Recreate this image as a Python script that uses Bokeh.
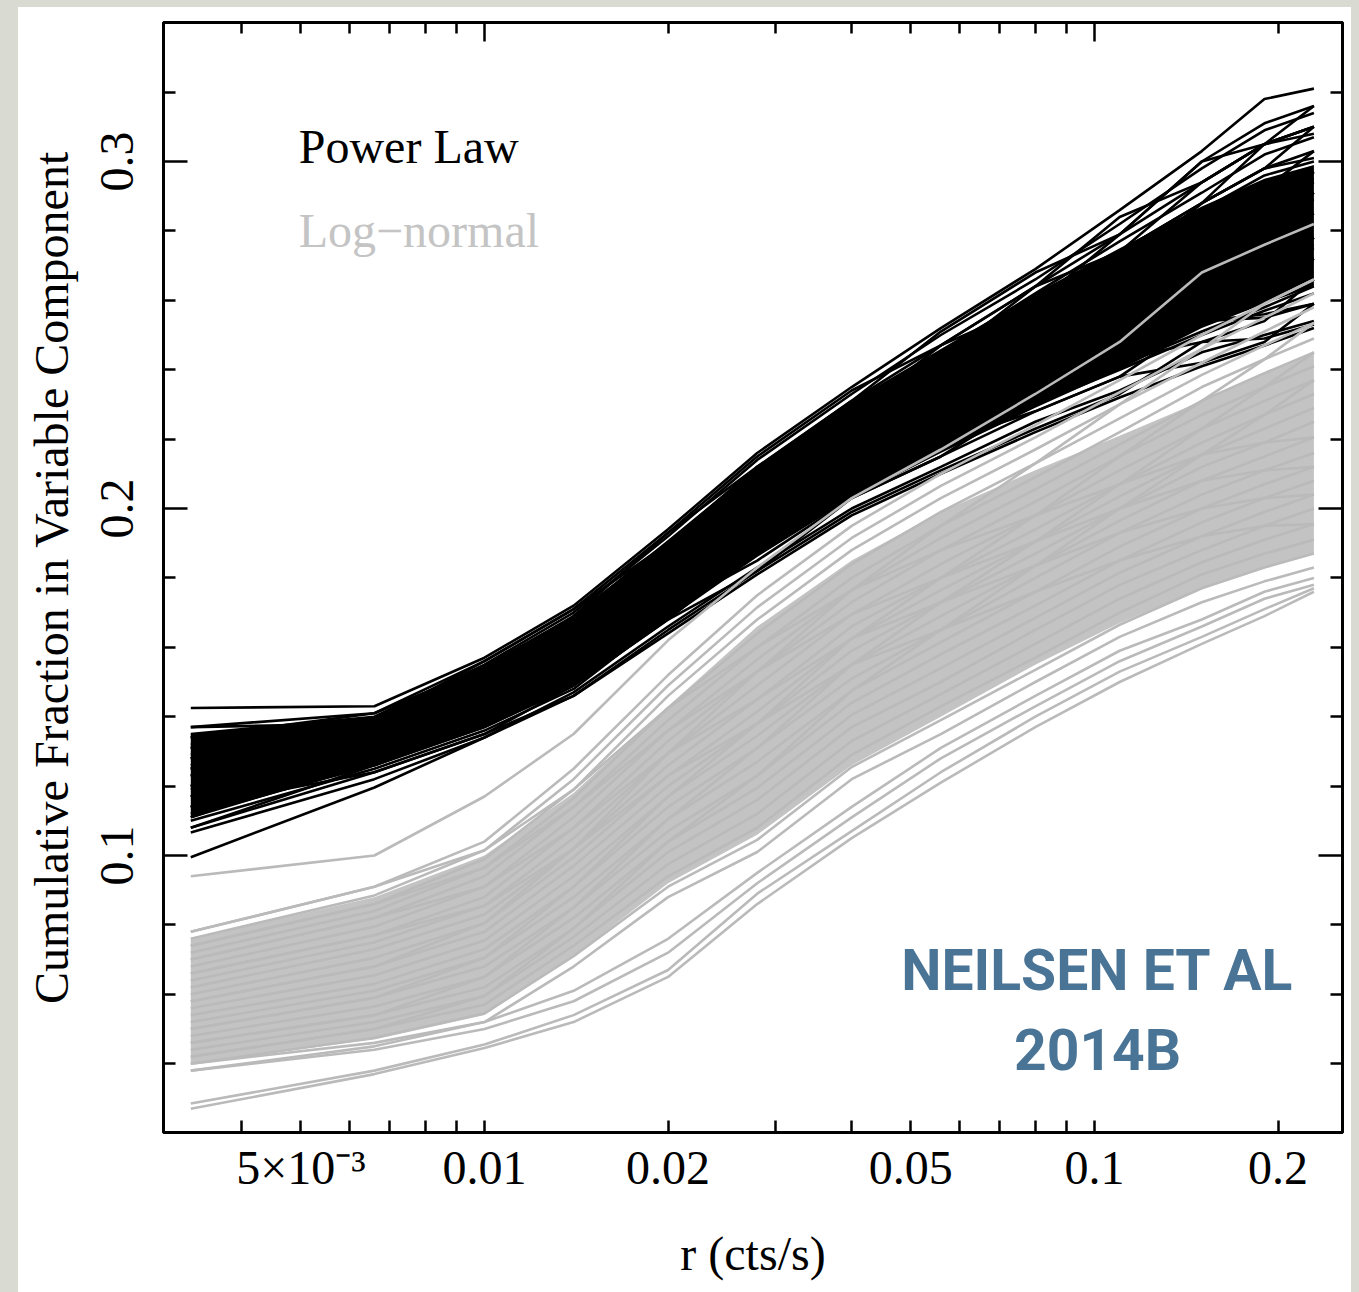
import math
from bokeh.plotting import figure
from bokeh.models import Range1d, FixedTicker, LogAxis, LinearAxis, Label
from bokeh.embed import file_html
from bokeh.resources import INLINE

# ---------------- data ----------------
R_GRID = [0.0033, 0.0066, 0.01, 0.014, 0.02, 0.028, 0.04, 0.056, 0.08, 0.11, 0.15, 0.19, 0.229]

# dense core of each bundle of realisations (where the curves overlap solidly)
PL_CORE_LO = [0.111, 0.126, 0.137, 0.149, 0.168, 0.186, 0.203, 0.216, 0.229, 0.240, 0.252, 0.259, 0.264]
PL_CORE_HI = [0.135, 0.140, 0.155, 0.169, 0.191, 0.212, 0.231, 0.246, 0.262, 0.275, 0.287, 0.295, 0.299]
LN_CORE_LO = [0.040, 0.047, 0.054, 0.071, 0.092, 0.106, 0.126, 0.140, 0.155, 0.167, 0.177, 0.183, 0.187]
LN_CORE_HI = [0.076, 0.088, 0.100, 0.118, 0.143, 0.166, 0.185, 0.199, 0.211, 0.221, 0.231, 0.239, 0.245]

POWER_LAW = [
    [0.1425, 0.143, 0.157, 0.172, 0.194, 0.216, 0.235, 0.252, 0.269, 0.286, 0.303, 0.318, 0.321],
    [0.0995, 0.1196, 0.134, 0.146, 0.164, 0.181, 0.198, 0.210, 0.222, 0.232, 0.241, 0.247, 0.252],
    [0.137, 0.141, 0.156, 0.171, 0.193, 0.215, 0.234, 0.247, 0.264, 0.284, 0.294, 0.305, 0.310],
    [0.134, 0.139, 0.154, 0.169, 0.193, 0.212, 0.231, 0.251, 0.268, 0.279, 0.300, 0.311, 0.316],
    [0.131, 0.139, 0.156, 0.171, 0.190, 0.212, 0.227, 0.243, 0.264, 0.274, 0.294, 0.305, 0.316],
    [0.137, 0.138, 0.152, 0.166, 0.188, 0.212, 0.231, 0.247, 0.259, 0.274, 0.288, 0.298, 0.303],
    [0.128, 0.138, 0.152, 0.169, 0.190, 0.208, 0.227, 0.239, 0.255, 0.274, 0.288, 0.305, 0.310],
    [0.134, 0.136, 0.150, 0.164, 0.188, 0.208, 0.224, 0.243, 0.259, 0.269, 0.283, 0.292, 0.303],
    [0.125, 0.136, 0.150, 0.164, 0.185, 0.205, 0.224, 0.235, 0.255, 0.269, 0.277, 0.286, 0.297],
    [0.131, 0.134, 0.148, 0.161, 0.182, 0.205, 0.227, 0.243, 0.255, 0.264, 0.277, 0.292, 0.295],
    [0.123, 0.134, 0.148, 0.161, 0.185, 0.202, 0.220, 0.239, 0.250, 0.264, 0.283, 0.292, 0.297],
    [0.128, 0.133, 0.146, 0.159, 0.179, 0.199, 0.220, 0.235, 0.250, 0.259, 0.271, 0.280, 0.291],
    [0.120, 0.133, 0.146, 0.159, 0.182, 0.202, 0.217, 0.231, 0.246, 0.259, 0.277, 0.286, 0.289],
    [0.125, 0.131, 0.143, 0.156, 0.176, 0.199, 0.217, 0.227, 0.241, 0.254, 0.265, 0.280, 0.285],
    [0.117, 0.131, 0.143, 0.156, 0.179, 0.195, 0.213, 0.231, 0.246, 0.254, 0.265, 0.273, 0.278],
    [0.123, 0.129, 0.141, 0.154, 0.173, 0.192, 0.213, 0.227, 0.237, 0.248, 0.259, 0.267, 0.278],
    [0.114, 0.129, 0.141, 0.154, 0.176, 0.195, 0.210, 0.223, 0.241, 0.254, 0.259, 0.267, 0.272],
    [0.120, 0.127, 0.139, 0.151, 0.171, 0.189, 0.206, 0.223, 0.237, 0.243, 0.254, 0.261, 0.266],
    [0.111, 0.127, 0.139, 0.151, 0.173, 0.192, 0.210, 0.219, 0.232, 0.248, 0.259, 0.261, 0.272],
    [0.117, 0.126, 0.137, 0.149, 0.168, 0.189, 0.206, 0.219, 0.228, 0.238, 0.254, 0.256, 0.259],
    [0.108, 0.126, 0.137, 0.149, 0.171, 0.185, 0.203, 0.215, 0.232, 0.243, 0.248, 0.254, 0.266],
    [0.114, 0.124, 0.135, 0.146, 0.165, 0.182, 0.203, 0.215, 0.228, 0.238, 0.242, 0.248, 0.259],
    [0.108, 0.124, 0.135, 0.149, 0.168, 0.182, 0.199, 0.211, 0.223, 0.233, 0.248, 0.249, 0.253],
    [0.134, 0.141, 0.154, 0.166, 0.185, 0.205, 0.220, 0.235, 0.246, 0.259, 0.265, 0.273, 0.276],
    [0.111, 0.129, 0.146, 0.161, 0.185, 0.208, 0.227, 0.247, 0.264, 0.279, 0.300, 0.305, 0.310],
    [0.131, 0.138, 0.150, 0.161, 0.179, 0.195, 0.213, 0.223, 0.237, 0.248, 0.254, 0.261, 0.266],
    [0.125, 0.134, 0.148, 0.164, 0.185, 0.205, 0.227, 0.243, 0.259, 0.279, 0.294, 0.305, 0.308],
    [0.123, 0.133, 0.143, 0.156, 0.176, 0.195, 0.217, 0.235, 0.255, 0.269, 0.288, 0.298, 0.310],
    [0.128, 0.136, 0.148, 0.159, 0.179, 0.199, 0.213, 0.227, 0.237, 0.243, 0.254, 0.255, 0.259],
    [0.114, 0.127, 0.141, 0.156, 0.179, 0.202, 0.220, 0.231, 0.246, 0.264, 0.277, 0.286, 0.291],
    [0.117, 0.129, 0.141, 0.154, 0.176, 0.199, 0.220, 0.239, 0.255, 0.269, 0.288, 0.298, 0.301],
    [0.120, 0.131, 0.146, 0.159, 0.179, 0.199, 0.217, 0.231, 0.250, 0.264, 0.271, 0.280, 0.285],
    [0.135, 0.140, 0.155, 0.170, 0.192, 0.214, 0.233, 0.250, 0.266, 0.282, 0.298, 0.309, 0.314],
    [0.1066, 0.122, 0.134, 0.147, 0.166, 0.183, 0.200, 0.212, 0.225, 0.234, 0.245, 0.250, 0.254],
    [0.110, 0.125, 0.136, 0.148, 0.169, 0.187, 0.205, 0.217, 0.230, 0.240, 0.250, 0.257, 0.262],
    [0.132, 0.137, 0.151, 0.165, 0.186, 0.207, 0.226, 0.241, 0.257, 0.271, 0.286, 0.296, 0.300],
    [0.126, 0.135, 0.149, 0.162, 0.183, 0.203, 0.222, 0.237, 0.252, 0.266, 0.280, 0.289, 0.294],
    [0.119, 0.130, 0.142, 0.155, 0.175, 0.194, 0.212, 0.225, 0.239, 0.251, 0.262, 0.270, 0.275],
    [0.112, 0.126, 0.138, 0.150, 0.170, 0.188, 0.205, 0.217, 0.230, 0.241, 0.251, 0.258, 0.264],
    [0.129, 0.137, 0.151, 0.165, 0.187, 0.209, 0.229, 0.245, 0.262, 0.277, 0.291, 0.302, 0.307],
]

LOG_NORMAL = [
    [0.094, 0.100, 0.117, 0.135, 0.162, 0.183, 0.203, 0.217, 0.233, 0.248, 0.268, 0.276, 0.282],
    [0.0285, 0.038, 0.0455, 0.054, 0.067, 0.089, 0.107, 0.124, 0.140, 0.153, 0.163, 0.171, 0.177],
    [0.027, 0.037, 0.0445, 0.052, 0.065, 0.086, 0.105, 0.121, 0.137, 0.150, 0.161, 0.169, 0.176],
    [0.038, 0.044, 0.050, 0.058, 0.072, 0.092, 0.111, 0.128, 0.143, 0.156, 0.166, 0.174, 0.178],
    [0.040, 0.046, 0.052, 0.061, 0.076, 0.095, 0.114, 0.131, 0.146, 0.159, 0.168, 0.176, 0.180],
    [0.038, 0.045, 0.052, 0.068, 0.088, 0.101, 0.122, 0.135, 0.150, 0.163, 0.173, 0.179, 0.183],
    [0.042, 0.050, 0.057, 0.074, 0.094, 0.108, 0.129, 0.143, 0.157, 0.170, 0.181, 0.187, 0.191],
    [0.046, 0.054, 0.062, 0.079, 0.101, 0.116, 0.137, 0.150, 0.165, 0.178, 0.188, 0.195, 0.200],
    [0.050, 0.059, 0.068, 0.085, 0.107, 0.123, 0.144, 0.158, 0.172, 0.185, 0.196, 0.203, 0.208],
    [0.054, 0.063, 0.073, 0.091, 0.114, 0.131, 0.151, 0.165, 0.180, 0.193, 0.204, 0.211, 0.216],
    [0.058, 0.068, 0.078, 0.097, 0.120, 0.138, 0.159, 0.173, 0.187, 0.200, 0.212, 0.219, 0.225],
    [0.062, 0.073, 0.083, 0.102, 0.126, 0.145, 0.166, 0.180, 0.194, 0.207, 0.219, 0.227, 0.233],
    [0.066, 0.077, 0.088, 0.108, 0.133, 0.153, 0.173, 0.188, 0.202, 0.215, 0.227, 0.235, 0.241],
    [0.070, 0.082, 0.094, 0.114, 0.139, 0.160, 0.180, 0.195, 0.209, 0.222, 0.235, 0.243, 0.249],
    [0.074, 0.086, 0.099, 0.119, 0.146, 0.168, 0.188, 0.203, 0.217, 0.230, 0.242, 0.251, 0.258],
    [0.078, 0.091, 0.104, 0.125, 0.152, 0.175, 0.195, 0.210, 0.224, 0.237, 0.250, 0.259, 0.266],
    [0.040, 0.0475, 0.0545, 0.071, 0.091, 0.1045, 0.1255, 0.139, 0.1535, 0.1665, 0.177, 0.183, 0.187],
    [0.044, 0.052, 0.0595, 0.0765, 0.0975, 0.112, 0.133, 0.1465, 0.161, 0.174, 0.1845, 0.191, 0.1955],
    [0.048, 0.0565, 0.065, 0.082, 0.104, 0.1195, 0.1405, 0.154, 0.1685, 0.1815, 0.192, 0.199, 0.204],
    [0.052, 0.061, 0.0705, 0.088, 0.1105, 0.127, 0.1475, 0.1615, 0.176, 0.189, 0.200, 0.207, 0.212],
    [0.056, 0.0655, 0.0755, 0.094, 0.117, 0.1345, 0.155, 0.169, 0.1835, 0.1965, 0.208, 0.215, 0.2205],
    [0.060, 0.0705, 0.0805, 0.0995, 0.123, 0.1415, 0.1625, 0.1765, 0.1905, 0.2035, 0.2155, 0.223, 0.229],
    [0.064, 0.075, 0.0855, 0.105, 0.1295, 0.149, 0.1695, 0.184, 0.198, 0.211, 0.223, 0.231, 0.237],
    [0.068, 0.0795, 0.091, 0.111, 0.136, 0.1565, 0.1765, 0.1915, 0.2055, 0.2185, 0.231, 0.239, 0.245],
    [0.072, 0.084, 0.0965, 0.1165, 0.1425, 0.164, 0.184, 0.199, 0.213, 0.226, 0.2385, 0.247, 0.2535],
    [0.076, 0.0885, 0.1015, 0.122, 0.149, 0.1715, 0.1915, 0.2065, 0.2205, 0.2335, 0.246, 0.255, 0.262],
    [0.046, 0.054, 0.065, 0.085, 0.1105, 0.131, 0.155, 0.173, 0.1905, 0.207, 0.223, 0.235, 0.245],
    [0.070, 0.082, 0.091, 0.108, 0.1295, 0.145, 0.1625, 0.173, 0.1835, 0.193, 0.200, 0.203, 0.204],
    [0.058, 0.068, 0.0805, 0.102, 0.1295, 0.153, 0.1765, 0.195, 0.213, 0.230, 0.246, 0.259, 0.266],
    [0.078, 0.091, 0.1015, 0.119, 0.1425, 0.160, 0.1765, 0.188, 0.198, 0.207, 0.2155, 0.219, 0.2205],
    [0.042, 0.050, 0.0595, 0.079, 0.104, 0.123, 0.1475, 0.165, 0.1835, 0.200, 0.2155, 0.227, 0.237],
    [0.066, 0.077, 0.0855, 0.102, 0.123, 0.138, 0.155, 0.165, 0.176, 0.185, 0.192, 0.195, 0.1955],
    [0.050, 0.059, 0.0705, 0.091, 0.117, 0.138, 0.1625, 0.180, 0.198, 0.215, 0.231, 0.243, 0.2535],
    [0.074, 0.086, 0.0965, 0.114, 0.136, 0.153, 0.1695, 0.180, 0.1905, 0.200, 0.208, 0.211, 0.212],
]

X_LABEL_TICKS = [0.005, 0.01, 0.02, 0.05, 0.1, 0.2]
X_LABEL_TEXT = ["5×10⁻³", "0.01", "0.02", "0.05", "0.1", "0.2"]
X_MINOR_TICKS = [0.004, 0.006, 0.007, 0.008, 0.009, 0.03, 0.04, 0.06, 0.07, 0.08, 0.09]
X_DECADE_TICKS = [0.01, 0.1]
X_TOP_MINOR = [0.004, 0.005, 0.006, 0.007, 0.008, 0.009, 0.02, 0.03, 0.04, 0.05,
               0.06, 0.07, 0.08, 0.09, 0.2]
Y_MAJOR = [0.1, 0.2, 0.3]
Y_MINOR = [0.04, 0.06, 0.08, 0.12, 0.14, 0.16, 0.18, 0.22, 0.24, 0.26, 0.28, 0.32]

SERIES_NAMES = ["Power Law", "Log−normal"]
SERIES_COLORS = ["#000000", "#bababa"]
CORE_COLORS = ["#000000", "#c3c3c3"]

# ---------------- figure ----------------
SERIF = "Liberation Serif"
SLIDE_GRAY = "#d9dad2"
p = figure(width=1359, height=1292, x_axis_type="log",
           x_range=Range1d(0.002977, 0.2551), y_range=Range1d(0.02017, 0.34006),
           min_border_left=163, min_border_right=17, min_border_top=22, min_border_bottom=160,
           output_backend="svg", toolbar_location=None,
           background_fill_color="white", border_fill_color=None)
# slide background: gray strips at left / top / right, white card behind the plot
p.styles = {
    "background-image": (
        f"linear-gradient(to bottom, {SLIDE_GRAY} 7px, rgba(255,255,255,0) 7px), "
        f"linear-gradient(to right, {SLIDE_GRAY} 18px, #ffffff 18px, #ffffff 1351px, {SLIDE_GRAY} 1351px)"
    )
}
p.xgrid.visible = False
p.ygrid.visible = False
p.outline_line_color = "black"
p.outline_line_width = 3

# curves: solid core of each bundle, then the individual realisations
p.varea(x=R_GRID, y1=PL_CORE_LO, y2=PL_CORE_HI, fill_color=CORE_COLORS[0])
p.multi_line(xs=[R_GRID] * len(POWER_LAW), ys=POWER_LAW,
             line_color=SERIES_COLORS[0], line_width=2.6)
p.varea(x=R_GRID, y1=LN_CORE_LO, y2=LN_CORE_HI, fill_color=CORE_COLORS[1])
p.multi_line(xs=[R_GRID] * len(LOG_NORMAL), ys=LOG_NORMAL,
             line_color=SERIES_COLORS[1], line_width=2.6)

# bottom axis
xb = p.xaxis[0]
xb.ticker = FixedTicker(ticks=X_LABEL_TICKS, minor_ticks=X_MINOR_TICKS)
xb.major_label_overrides = dict(zip(X_LABEL_TICKS, X_LABEL_TEXT))
xb.major_tick_in = 12
xb.major_tick_out = 0
xb.minor_tick_in = 12
xb.minor_tick_out = 0
xb.major_tick_line_width = 2.5
xb.minor_tick_line_width = 2.5
xb.axis_line_width = 3
xb.major_label_text_font = SERIF
xb.major_label_text_font_size = "48px"
xb.major_label_text_color = "black"
xb.major_label_standoff = 8
xb.axis_label = "r (cts/s)"
xb.axis_label_text_font = SERIF
xb.axis_label_text_font_size = "48px"
xb.axis_label_text_font_style = "normal"
xb.axis_label_text_color = "black"
xb.axis_label_standoff = 30

# left axis
yl = p.yaxis[0]
yl.ticker = FixedTicker(ticks=Y_MAJOR, minor_ticks=Y_MINOR)
yl.major_label_orientation = "vertical"
yl.major_tick_in = 24
yl.major_tick_out = 0
yl.minor_tick_in = 12
yl.minor_tick_out = 0
yl.major_tick_line_width = 2.5
yl.minor_tick_line_width = 2.5
yl.axis_line_width = 3
yl.major_label_text_font = SERIF
yl.major_label_text_font_size = "48px"
yl.major_label_text_color = "black"
yl.major_label_standoff = 30
yl.axis_label = "Cumulative Fraction in Variable Component"
yl.axis_label_text_font = SERIF
yl.axis_label_text_font_size = "48px"
yl.axis_label_text_font_style = "normal"
yl.axis_label_text_color = "black"
yl.axis_label_standoff = 21

# mirrored top / right axes (ticks only, labels hidden)
top = LogAxis(ticker=FixedTicker(ticks=X_DECADE_TICKS, minor_ticks=X_TOP_MINOR),
              major_tick_in=19, major_tick_out=0, minor_tick_in=11, minor_tick_out=0,
              major_tick_line_width=2.5, minor_tick_line_width=2.5, axis_line_width=3,
              major_label_text_font_size="2px", major_label_text_alpha=0.0,
              major_label_standoff=0)
p.add_layout(top, "above")
right = LinearAxis(ticker=FixedTicker(ticks=Y_MAJOR, minor_ticks=Y_MINOR),
                   major_tick_in=24, major_tick_out=0, minor_tick_in=12, minor_tick_out=0,
                   major_tick_line_width=2.5, minor_tick_line_width=2.5, axis_line_width=3,
                   major_label_text_font_size="2px", major_label_text_alpha=0.0,
                   major_label_standoff=0)
p.add_layout(right, "right")

# legend text
p.add_layout(Label(x=0.00496, y=0.3043, text=SERIES_NAMES[0], text_font=SERIF,
                   text_font_size="48px", text_color=SERIES_COLORS[0],
                   text_baseline="alphabetic", text_align="left"))
p.add_layout(Label(x=0.00496, y=0.2801, text=SERIES_NAMES[1], text_font=SERIF,
                   text_font_size="48px", text_color="#c4c4c4",
                   text_baseline="alphabetic", text_align="left"))

# citation stamp
STAMP_FONT = "Roboto"
p.add_layout(Label(x=0.1012, y=0.0669, text="NEILSEN ET AL", text_font=STAMP_FONT,
                   text_font_size="57px", text_font_style="bold", text_color="#4a7496",
                   text_baseline="alphabetic", text_align="center"))
p.add_layout(Label(x=0.1012, y=0.0438, text="2014B", text_font=STAMP_FONT,
                   text_font_size="57px", text_font_style="bold", text_color="#4a7496",
                   text_baseline="alphabetic", text_align="center"))

open("out.html", "w").write(file_html(p, INLINE, title="Cumulative fraction"))
